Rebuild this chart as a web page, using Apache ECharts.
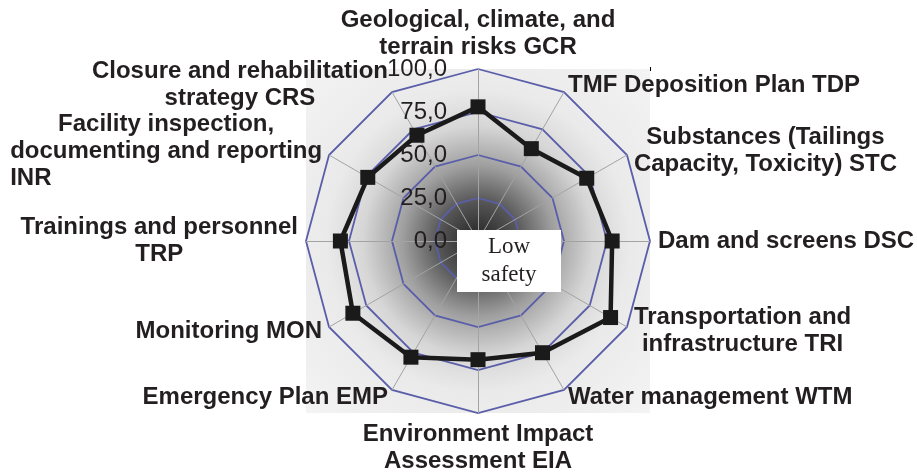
<!DOCTYPE html>
<html><head><meta charset="utf-8">
<script src="https://cdn.jsdelivr.net/npm/echarts@6/dist/echarts.min.js"></script>
<style>html,body{margin:0;padding:0;background:#fff}#c{width:917px;height:475px}</style>
</head><body><div id="c"></div>
<script>
// ---- data (clockwise from top) ----
const categories = [
  'Geological, climate, and\nterrain risks GCR',
  'TMF Deposition Plan TDP',
  'Substances (Tailings\nCapacity, Toxicity) STC',
  'Dam and screens DSC',
  'Transportation and\ninfrastructure TRI',
  'Water management WTM',
  'Environment Impact\nAssessment EIA',
  'Emergency Plan EMP',
  'Monitoring MON',
  'Trainings and personnel\nTRP',
  'Facility inspection,\ndocumenting and reporting\nINR',
  'Closure and rehabilitation\nstrategy CRS'
];
const values = [78, 62, 73, 78, 89, 75, 69, 78, 84, 80, 74, 71];
const tickValues = [0, 25, 50, 75, 100];
const leftAlignedLines = ['INR'];
const centerLabel = ['Low', 'safety'];

// ---- layout ----
const cx = 478, cy = 241, R = 172;
const TXT = '#231f20';
const SANS = '"Liberation Sans", Arial, sans-serif';

// ECharts radar goes counter-clockwise; reorder so the picture reads clockwise
const n = categories.length;
const order = categories.map((_, i) => (n - i) % n);

const chart = echarts.init(document.getElementById('c'), null, {renderer: 'canvas'});
chart.setOption({
  animation: false,
  backgroundColor: '#fff',
  graphic: [
    {
      type: 'rect', z: -10, silent: true,
      shape: {x: cx - R, y: cy - R, width: 2 * R, height: 2 * R},
      style: {
        fill: new echarts.graphic.RadialGradient(0.5, 0.5, 0.71, [
          {offset: 0, color: '#282828'},
          {offset: 0.06, color: '#353535'},
          {offset: 0.16, color: '#555555'},
          {offset: 0.31, color: '#9f9f9f'},
          {offset: 0.47, color: '#d6d6d6'},
          {offset: 0.62, color: '#eaeaea'},
          {offset: 1, color: '#f4f4f4'}
        ])
      }
    },
    {
      type: 'line', silent: true, z: 5,
      shape: {x1: cx + R + 0.5, y1: cy - R - 2, x2: cx + R + 0.5, y2: cy - R + 2},
      style: {stroke: '#000', lineWidth: 1}
    },
    {
      type: 'rect', z: 100, silent: true,
      shape: {x: cx - 21, y: cy - 11, width: 104, height: 62},
      style: {fill: '#fff'}
    },
    {
      type: 'text', z: 101, silent: true,
      x: cx + 31, y: cy + 20,
      style: {
        text: centerLabel.join('\n'),
        font: '23px "Liberation Serif", "Times New Roman", serif',
        fill: TXT, align: 'center', verticalAlign: 'middle', lineHeight: 28
      }
    }
  ],
  radar: {
    center: [cx, cy],
    radius: R,
    startAngle: 90,
    shape: 'polygon',
    splitNumber: 4,
    indicator: order.map(i => ({name: categories[i], min: 0, max: 100})),
    axisName: {
      color: TXT,
      fontFamily: SANS,
      fontWeight: 'bold',
      fontSize: 24,
      lineHeight: 27,
      formatter: function (name) {
        return name.split('\n').map(l =>
          (leftAlignedLines.indexOf(l) >= 0 ? '{l|' : '{c|') + l + '}').join('\n');
      },
      rich: {
        c: {align: 'center', color: TXT, fontSize: 24, fontWeight: 'bold', lineHeight: 27, fontFamily: SANS},
        l: {align: 'left', color: TXT, fontSize: 24, fontWeight: 'bold', lineHeight: 27, fontFamily: SANS}
      }
    },
    nameGap: 8,
    axisLine: {lineStyle: {color: '#a3a3a3', width: 1}},
    splitLine: {lineStyle: {color: '#5a5ea9', width: 1.8}},
    splitArea: {show: false},
    axisLabel: {show: false},
    axisTick: {show: false}
  },
  grid: {left: cx, top: cy - R, width: 1, height: R, outerBoundsMode: 'none', containLabel: false},
  xAxis: {type: 'value', show: false},
  yAxis: {
    type: 'value',
    min: tickValues[0], max: tickValues[tickValues.length - 1],
    interval: tickValues[1] - tickValues[0],
    axisLine: {show: false}, axisTick: {show: false}, splitLine: {show: false},
    axisLabel: {
      margin: 31,
      color: TXT,
      fontSize: 24,
      fontFamily: SANS,
      formatter: v => v.toFixed(1).replace('.', ',')
    },
    z: 50
  },
  series: [{
    type: 'radar',
    symbol: 'rect',
    symbolSize: 15,
    lineStyle: {color: '#1a1a1a', width: 4.5},
    itemStyle: {color: '#1a1a1a'},
    data: [{value: order.map(i => values[i])}]
  }]
});
</script>
</body></html>
